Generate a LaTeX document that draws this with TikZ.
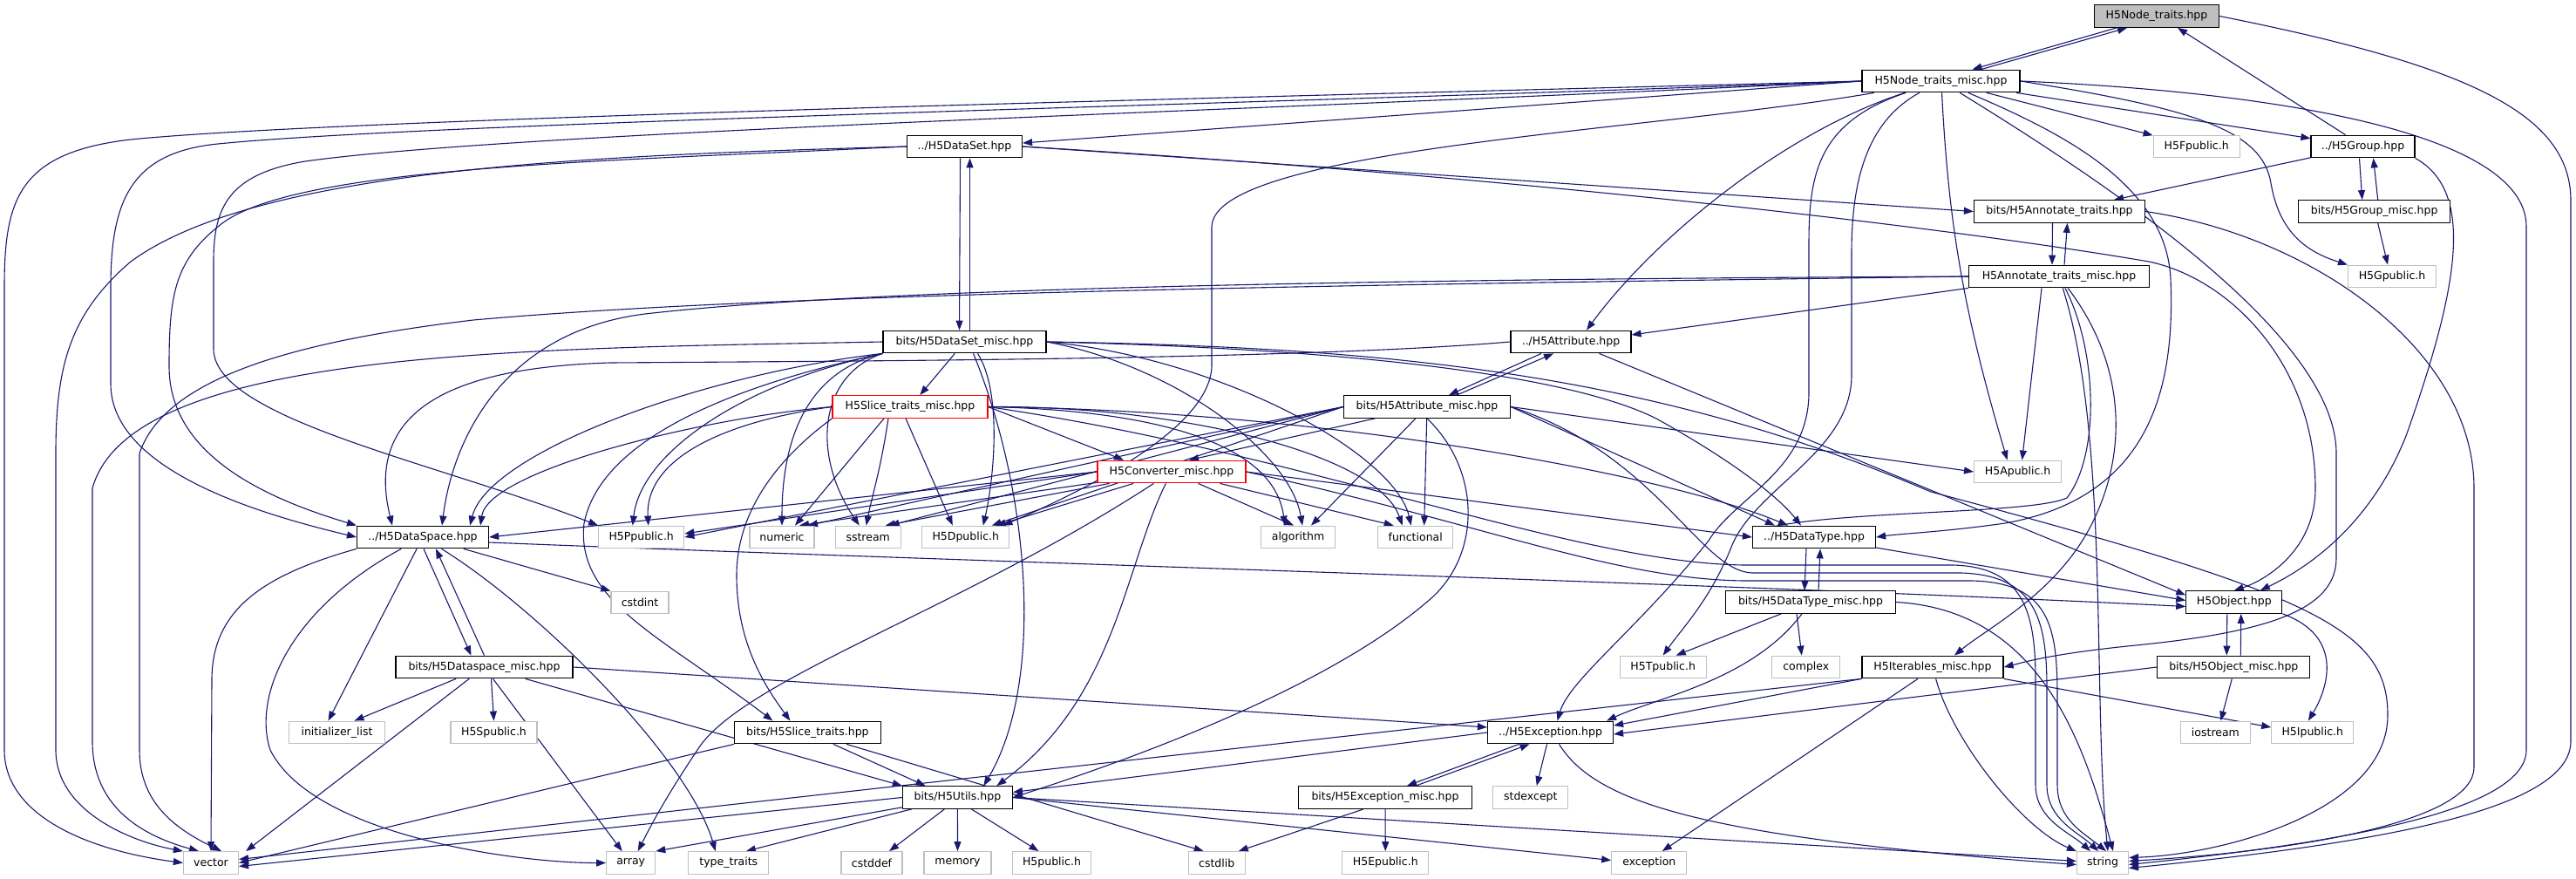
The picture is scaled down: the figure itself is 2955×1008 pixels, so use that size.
\documentclass[tikz,border=0pt]{standalone}
\usepackage{fontspec}
\setmainfont{DejaVu Sans}
\usetikzlibrary{arrows.meta}
\definecolor{edgec}{HTML}{191970}
\definecolor{lgray}{HTML}{BFBFBF}
\pgfdeclarelayer{bg}
\pgfsetlayers{bg,main}
\begin{document}
\begin{tikzpicture}[x=1pt,y=-1pt,
  every node/.style={font=\fontsize{12.5pt}{15pt}\selectfont, inner sep=0pt, minimum height=25.6pt},
  hdr/.style={draw=black, line width=1.2pt, fill=white},
  sys/.style={draw=lgray, line width=1.2pt, fill=white},
  redb/.style={draw=red, line width=1.2pt, fill=white},
  e/.style={draw=edgec, line width=1.1pt, -{Triangle[length=11pt,width=8pt]}},
]
\useasboundingbox (0,0) rectangle (2955,1008);
% nodes
\node[hdr,fill=lgray,minimum width=143pt] (T) at (2474,18.5) {H5Node\_traits.hpp};
\node[hdr,minimum width=181pt] (NTM) at (2226.5,93) {H5Node\_traits\_misc.hpp};
\node[hdr,minimum width=132pt] (DS) at (1106.5,168) {../H5DataSet.hpp};
\node[sys,minimum width=99pt] (Fp) at (2519.7,168) {H5Fpublic.h};
\node[hdr,minimum width=119pt] (Grp) at (2710.5,168) {../H5Group.hpp};
\node[hdr,minimum width=196pt] (AT) at (2362.5,242.5) {bits/H5Annotate\_traits.hpp};
\node[hdr,minimum width=174pt] (GM) at (2723.7,242.5) {bits/H5Group\_misc.hpp};
\node[hdr,minimum width=207pt] (ATM) at (2362,317) {H5Annotate\_traits\_misc.hpp};
\node[sys,minimum width=101pt] (Gp) at (2744,317) {H5Gpublic.h};
\node[hdr,minimum width=187pt] (DSM) at (1106.5,392) {bits/H5DataSet\_misc.hpp};
\node[hdr,minimum width=138pt] (Att) at (1802,392) {../H5Attribute.hpp};
\node[redb,minimum width=178pt] (STM) at (1044,466.5) {H5Slice\_traits\_misc.hpp};
\node[hdr,minimum width=191pt] (AttM) at (1637,466.5) {bits/H5Attribute\_misc.hpp};
\node[redb,minimum width=170pt] (Cv) at (1344,541) {H5Converter\_misc.hpp};
\node[sys,minimum width=100pt] (Ap) at (2314.6,541) {H5Apublic.h};
\node[hdr,minimum width=151pt] (DSp) at (485,616) {../H5DataSpace.hpp};
\node[sys,minimum width=98pt] (Pp) at (735.7,616) {H5Ppublic.h};
\node[sys,minimum width=74pt] (num) at (897,616) {numeric};
\node[sys,minimum width=75pt] (ss) at (995.7,616) {sstream};
\node[sys,minimum width=100pt] (Dp) at (1107.8,616) {H5Dpublic.h};
\node[sys,minimum width=85pt] (alg) at (1489,616) {algorithm};
\node[sys,minimum width=86pt] (fun) at (1623.7,616) {functional};
\node[hdr,minimum width=141pt] (DT) at (2081,616) {../H5DataType.hpp};
\node[sys,minimum width=66pt] (cint) at (734,691) {cstdint};
\node[hdr,minimum width=195pt] (DTM) at (2077,690.5) {bits/H5DataType\_misc.hpp};
\node[hdr,minimum width=110pt] (Obj) at (2562.8,690.5) {H5Object.hpp};
\node[hdr,minimum width=203pt] (DSpM) at (555.5,765) {bits/H5Dataspace\_misc.hpp};
\node[sys,minimum width=99pt] (Tp) at (1907.7,765) {H5Tpublic.h};
\node[sys,minimum width=78pt] (cx) at (2071.8,765) {complex};
\node[hdr,minimum width=162pt] (ItM) at (2217,765) {H5Iterables\_misc.hpp};
\node[hdr,minimum width=175pt] (OM) at (2562.3,765) {bits/H5Object\_misc.hpp};
\node[sys,minimum width=110pt] (il) at (386.5,840) {initializer\_list};
\node[sys,minimum width=99pt] (Sp) at (566.5,840) {H5Spublic.h};
\node[hdr,minimum width=168pt] (ST) at (926.4,840) {bits/H5Slice\_traits.hpp};
\node[hdr,minimum width=144pt] (Ex) at (1778.5,840) {../H5Exception.hpp};
\node[sys,minimum width=80pt] (io) at (2541.4,840) {iostream};
\node[sys,minimum width=94pt] (Ip) at (2652.8,840) {H5Ipublic.h};
\node[hdr,minimum width=126pt] (Ut) at (1098.4,914.5) {bits/H5Utils.hpp};
\node[hdr,minimum width=199pt] (EM) at (1589,914.5) {bits/H5Exception\_misc.hpp};
\node[sys,minimum width=86pt] (se) at (1755.8,914.5) {stdexcept};
\node[sys,minimum width=63pt] (vec) at (242,989.5) {vector};
\node[sys,minimum width=56pt] (arr) at (723.7,989.5) {array};
\node[sys,minimum width=92pt] (tt) at (835.8,989.5) {type\_traits};
\node[sys,minimum width=70pt] (cdf) at (1000,989.5) {cstddef};
\node[sys,minimum width=77pt] (mem) at (1098.5,989.5) {memory};
\node[sys,minimum width=90pt] (Hp) at (1206.5,989.5) {H5public.h};
\node[sys,minimum width=65pt] (csl) at (1395.7,989.5) {cstdlib};
\node[sys,minimum width=99pt] (Ep) at (1589.3,989.5) {H5Epublic.h};
\node[sys,minimum width=86pt] (exc) at (1891.8,989.5) {exception};
\node[sys,minimum width=59pt] (str) at (2412,989.5) {string};

\begin{pgfonlayer}{bg}
\fill[white] (0,0) rectangle (2955,1008);
% top node
\draw[e] ([xshift=-46pt]T.south) -- ([xshift=36pt]NTM.north);
\draw[e] ([xshift=46pt]NTM.north) -- ([xshift=-34pt]T.south);
\draw[e] ([xshift=-20pt]Grp.north) -- ([xshift=24pt]T.south);
\draw[e] (T.east) .. controls (2830,75) and (2949,130) .. (2949,230) -- (2949,850) .. controls (2949,925) and (2750,965) .. ([yshift=-6pt]str.east);
% NTM
\draw[e] (NTM.east) .. controls (2600,105) and (2898,150) .. (2898,260) -- (2898,860) .. controls (2898,935) and (2650,970) .. ([yshift=-2pt]str.east);
\draw[e] (NTM.east) .. controls (2520,125) and (2595,150) .. (2605,210) .. controls (2615,270) and (2650,290) .. (Gp.north west);
\draw[e] (NTM) -- (Fp);
\draw[e] (NTM) -- (Grp);
\draw[e] (NTM.west) -- ([yshift=4pt]DS.east);
\draw[e] (NTM.west) .. controls (1500,110) and (400,135) .. (150,160) .. controls (20,175) and (5,230) .. (5,330) -- (5,860) .. controls (5,935) and (100,975) .. (vec.west);
\draw[e] (NTM.west) .. controls (1500,118) and (500,140) .. (250,165) .. controls (150,175) and (127,230) .. (127,330) -- (127,440) .. controls (127,540) and (300,590) .. (DSp.west);
\draw[e] (NTM.west) .. controls (1500,125) and (600,150) .. (350,185) .. controls (260,200) and (245,240) .. (245,300) -- (245,400) .. controls (245,480) and (500,530) .. (Pp.north west);
\draw[e] (NTM) .. controls (1900,150) and (1392,170) .. (1390,260) -- (1390,420) .. controls (1388,490) and (1250,560) .. ([xshift=-8pt]Dp.north east);
\draw[e] (NTM) .. controls (2050,150) and (1900,270) .. ([xshift=18pt]Att.north);
\draw[e] ([xshift=1pt]NTM.south) .. controls (2235,250) and (2250,350) .. ([xshift=-12pt]Ap.north);
\draw[e] (NTM) .. controls (2085,140) and (2075,200) .. (2075,280) -- (2075,450) .. controls (2075,540) and (1990,570) .. (1960,620) .. controls (1880,720) and (1800,780) .. ([xshift=8pt]Ex.north);
\draw[e] (NTM) .. controls (2140,140) and (2124,210) .. (2124,290) -- (2124,430) .. controls (2124,520) and (2010,560) .. (1985,630) .. controls (1960,690) and (1930,720) .. (Tp.north);
\draw[e] (NTM) .. controls (2360,150) and (2485,210) .. (2490,320) .. controls (2495,440) and (2470,570) .. (2300,600) .. controls (2230,610) and (2180,612) .. (DT.east);
\draw[e] (NTM) .. controls (2400,200) and (2680,380) .. (2680,520) -- (2680,640) .. controls (2680,700) and (2600,725) .. (2450,740) .. controls (2350,750) and (2320,760) .. (ItM.east);
% Group
\draw[e] (Grp) -- (AT);
\draw[e] ([xshift=-4pt]Grp.south) -- ([xshift=-14pt]GM.north);
\draw[e] ([xshift=4pt]GM.north) -- ([xshift=12pt]Grp.south);
\draw[e] ([xshift=4pt]GM.south) -- ([xshift=-5pt]Gp.north);
\draw[e] (Grp.south east) .. controls (2840,220) and (2820,330) .. (2760,500) .. controls (2720,600) and (2650,650) .. ([xshift=30pt]Obj.north);
% Annotate
\draw[e] ([xshift=-8pt]AT.south) -- ([xshift=-8pt]ATM.north);
\draw[e] ([xshift=6pt]ATM.north) -- ([xshift=9pt]AT.south);
\draw[e] (AT.east) .. controls (2650,270) and (2838,400) .. (2838,560) -- (2838,880) .. controls (2838,940) and (2650,975) .. ([yshift=2pt]str.east);
\draw[e] (ATM.south west) -- ([yshift=8pt]Att.east);
\draw[e] ([xshift=-20pt]ATM.south) -- ([xshift=5pt]Ap.north);
\draw[e] (ATM.west) .. controls (1600,320) and (1000,330) .. (740,360) .. controls (580,380) and (520,500) .. ([xshift=22pt]DSp.north);
\draw[e] (ATM.west) .. controls (1600,326) and (900,335) .. (543,367) .. controls (350,390) and (190,430) .. (160,520) -- (160,860) .. controls (160,920) and (200,950) .. ([xshift=-20pt]vec.north east);
\draw[e] (ATM) .. controls (2420,500) and (2400,800) .. ([xshift=6pt]str.north);
\draw[e] (ATM) .. controls (2405,400) and (2410,520) .. (2371,571) .. controls (2330,590) and (2100,585) .. ([yshift=6pt]DT.west);
\draw[e] (ATM) .. controls (2440,420) and (2440,520) .. (2400,600) .. controls (2360,680) and (2280,720) .. ([xshift=25pt]ItM.north);
% DataSet
\draw[e] ([xshift=-5pt]DS.south) -- ([xshift=-6pt]DSM.north);
\draw[e] ([xshift=6pt]DSM.north) -- ([xshift=6pt]DS.south);
\draw[e] (DS.east) -- (AT.west);
\draw[e] (DS.east) .. controls (1700,200) and (2200,255) .. (2465,300) .. controls (2560,320) and (2656,420) .. (2656,560) .. controls (2656,630) and (2600,665) .. (Obj.north);
\draw[e] (DS.west) .. controls (700,178) and (300,190) .. (150,300) .. controls (80,360) and (64,420) .. (64,520) -- (64,860) .. controls (64,930) and (150,965) .. (vec.north west);
\draw[e] (DS.west) .. controls (700,185) and (330,190) .. (250,260) .. controls (200,300) and (194,340) .. (194,420) .. controls (194,520) and (300,570) .. (DSp.north west);
% DataSet_misc
\draw[e] (DSM) -- (STM);
\draw[e] (DSM.west) .. controls (600,400) and (150,400) .. (106,560) -- (106,850) .. controls (106,930) and (170,960) .. ([xshift=-14pt]vec.north);
\draw[e] (DSM.south west) .. controls (800,430) and (560,520) .. ([xshift=-22pt]DSp.north east);
\draw[e] (DSM.south west) .. controls (850,440) and (735,520) .. ([xshift=-10pt]Pp.north);
\draw[e] (DSM.south west) .. controls (950,420) and (897,470) .. (num.north);
\draw[e] (DSM.south west) .. controls (940,430) and (930,520) .. ([xshift=-10pt]ss.north);
\draw[e] ([xshift=15pt]DSM.south) .. controls (1150,450) and (1140,550) .. ([xshift=20pt]Dp.north);
\draw[e] (DSM.east) .. controls (1350,420) and (1480,520) .. ([xshift=5pt]alg.north);
\draw[e] (DSM.east) .. controls (1400,410) and (1600,520) .. ([xshift=-5pt]fun.north);
\draw[e] (DSM.east) .. controls (1550,400) and (1800,430) .. (1900,480) .. controls (1990,530) and (2040,570) .. ([xshift=-15pt]DT.north);
\draw[e] (DSM.east) .. controls (1600,398) and (1900,430) .. (2215,564) .. controls (2650,680) and (2739,720) .. (2739,820) .. controls (2739,930) and (2550,980) .. ([yshift=6pt]str.east);
\draw[e] ([xshift=10pt]DSM.south) .. controls (1180,560) and (1200,780) .. ([xshift=30pt]Ut.north);
\draw[e] (DSM.south west) .. controls (850,440) and (690,500) .. (670,600) .. controls (660,690) and (760,730) .. ([xshift=-40pt]ST.north);
% Slice_traits_misc
\draw[e] (STM.west) .. controls (800,480) and (560,540) .. ([xshift=-10pt]DSp.north east);
\draw[e] (STM.west) .. controls (820,485) and (740,530) .. ([xshift=8pt]Pp.north);
\draw[e] ([xshift=-30pt]STM.south) -- ([xshift=15pt]num.north);
\draw[e] ([xshift=-25pt]STM.south) .. controls (1010,540) and (1000,570) .. ([xshift=-2pt]ss.north);
\draw[e] ([xshift=-5pt]STM.south) -- ([xshift=-15pt]Dp.north);
\draw[e] (STM.east) -- ([xshift=-55pt]Cv.north);
\draw[e] (STM.east) .. controls (1300,470) and (1460,500) .. ([xshift=-15pt]alg.north);
\draw[e] (STM.east) .. controls (1350,465) and (1580,520) .. ([xshift=-15pt]fun.north);
\draw[e] (STM.east) .. controls (1500,470) and (1900,540) .. ([xshift=-30pt]DT.north);
\draw[e] (STM.east) .. controls (1500,520) and (1800,645) .. (2000,648) -- (2240,648) .. controls (2320,650) and (2335,700) .. (2335,780) -- (2335,900) .. controls (2335,940) and (2375,955) .. ([xshift=-14pt]str.north);
\draw[e] (STM.south west) .. controls (900,520) and (845,580) .. (845,660) .. controls (845,740) and (880,790) .. ([xshift=-20pt]ST.north);
% Attribute
\draw[e] ([xshift=-34pt]Att.south) -- ([xshift=25pt]AttM.north);
\draw[e] ([xshift=34pt]AttM.north) -- ([xshift=-20pt]Att.south);
\draw[e] (Att) -- ([yshift=8pt]Obj.west);
\draw[e] (Att.west) .. controls (1500,412) and (1000,414) .. (700,416) .. controls (500,422) and (420,480) .. ([xshift=-35pt]DSp.north);
% Attribute_misc
\draw[e] (AttM) -- ([xshift=20pt]Cv.north);
\draw[e] (AttM) -- ([xshift=15pt]alg.north);
\draw[e] (AttM) -- ([xshift=10pt]fun.north);
\draw[e] (AttM.west) -- ([xshift=30pt]num.north);
\draw[e] (AttM.west) -- ([xshift=25pt]ss.north);
\draw[e] (AttM.west) -- ([xshift=30pt]Dp.north);
\draw[e] (AttM.west) -- (Pp.east);
\draw[e] (AttM.east) -- ([xshift=-45pt]DT.north);
\draw[e] (AttM.east) -- (Ap.west);
\draw[e] (AttM.east) .. controls (1900,520) and (1950,655) .. (2010,657) -- (2250,657) .. controls (2335,660) and (2348,710) .. (2348,790) -- (2348,900) .. controls (2348,940) and (2385,955) .. ([xshift=-5pt]str.north);
\draw[e] (AttM.south) .. controls (1700,540) and (1700,640) .. (1636,691) .. controls (1520,790) and (1300,870) .. (Ut.east);
% Converter
\draw[e] (Cv.west) -- (DSp.east);
\draw[e] (Cv.west) -- ([yshift=4pt]Pp.east);
\draw[e] (Cv) -- ([xshift=20pt]num.north);
\draw[e] (Cv) -- ([xshift=20pt]ss.north);
\draw[e] (Cv) -- ([xshift=35pt]Dp.north);
\draw[e] (Cv) -- ([xshift=-5pt]alg.north);
\draw[e] (Cv) -- ([xshift=-25pt]fun.north);
\draw[e] (Cv.east) -- (DT.west);
\draw[e] (Cv.east) .. controls (1700,600) and (1850,664) .. (2000,666) -- (2262,666) .. controls (2352,668) and (2360,720) .. (2360,800) -- (2360,900) .. controls (2360,940) and (2390,955) .. ([xshift=4pt]str.north);
\draw[e] (Cv) .. controls (1100,700) and (850,780) .. (800,860) .. controls (760,920) and (745,950) .. ([xshift=8pt]arr.north);
\draw[e] (Cv) .. controls (1290,650) and (1280,800) .. ([xshift=45pt]Ut.north);
% DataSpace
\draw[e] ([xshift=1pt]DSp.south) -- ([xshift=-15pt]DSpM.north);
\draw[e] (DSpM.north) -- ([xshift=15pt]DSp.south);
\draw[e] ([yshift=-6pt]DSp.east) .. controls (1000,640) and (2000,670) .. ([yshift=-5pt]Obj.west);
\draw[e] (DSp) -- (cint.north west);
\draw[e] (DSp.south west) .. controls (300,660) and (243,700) .. (243,780) -- (vec.north);
\draw[e] (DSp) -- ([xshift=-10pt]il.north);
\draw[e] (DSp) .. controls (330,700) and (290,800) .. (310,860) .. controls (360,960) and (600,990) .. (arr.west);
\draw[e] (DSp) .. controls (620,700) and (790,870) .. ([xshift=-15pt]tt.north);
% Dataspace_misc
\draw[e] (DSpM) -- ([xshift=20pt]il.north);
\draw[e] ([xshift=8pt]DSpM.south) -- (Sp.north);
\draw[e] (DSpM) -- ([xshift=8pt]vec.north east);
\draw[e] (DSpM) -- ([xshift=-10pt]arr.north);
\draw[e] (DSpM.east) -- ([yshift=6pt]Ex.west);
\draw[e] (DSpM) -- (Ut.north west);
% DataType
\draw[e] ([xshift=-9pt]DT.south) -- ([xshift=-7pt]DTM.north);
\draw[e] ([xshift=9pt]DTM.north) -- ([xshift=7pt]DT.south);
\draw[e] (DT) -- ([yshift=2pt]Obj.west);
\draw[e] (DTM) -- ([xshift=15pt]Tp.north);
\draw[e] ([xshift=-16pt]DTM.south) -- ([xshift=-5pt]cx.north);
\draw[e] (DTM) .. controls (2010,780) and (1900,800) .. ([xshift=-8pt]Ex.north east);
\draw[e] (DTM.east) .. controls (2340,700) and (2390,850) .. ([xshift=12pt]str.north);
% Object
\draw[e] ([xshift=-8pt]Obj.south) -- ([xshift=-8pt]OM.north);
\draw[e] ([xshift=8pt]OM.north) -- ([xshift=8pt]Obj.south);
\draw[e] (Obj.south east) .. controls (2690,730) and (2670,790) .. ([xshift=-5pt]Ip.north);
\draw[e] ([xshift=-2pt]OM.south) -- ([xshift=6pt]io.north);
\draw[e] (OM.west) -- ([yshift=-2pt]Ex.east);
% Iterables
\draw[e] (ItM.south west) -- ([yshift=8pt]Ex.east);
\draw[e] (ItM.south west) -- ([yshift=4pt]vec.east);
\draw[e] ([xshift=-17pt]ItM.south) -- ([xshift=15pt]exc.north);
\draw[e] (ItM) .. controls (2240,850) and (2320,950) .. (str.north west);
\draw[e] (ItM.south east) -- ([yshift=6pt]Ip.west);
% Slice_traits
\draw[e] (ST) -- ([xshift=-37pt]Ut.north);
\draw[e] (ST.south west) -- (vec.east);
\draw[e] (ST) -- ([xshift=-15pt]csl.north);
% Utils
\draw[e] (Ut.west) -- ([yshift=-4pt]vec.east);
\draw[e] (Ut) -- (arr.north east);
\draw[e] (Ut) -- ([xshift=20pt]tt.north);
\draw[e] ([xshift=-15pt]Ut.south) -- ([xshift=20pt]cdf.north);
\draw[e] (Ut) -- (mem);
\draw[e] ([xshift=16pt]Ut.south) -- ([xshift=-15pt]Hp.north);
\draw[e] (Ut.east) -- ([yshift=3pt]exc.west);
\draw[e] (Ut.east) -- ([yshift=2pt]str.west);
% Exception
\draw[e] ([xshift=-36pt]Ex.south) -- ([xshift=25pt]EM.north);
\draw[e] ([xshift=35pt]EM.north) -- ([xshift=-24pt]Ex.south);
\draw[e] ([xshift=-4pt]Ex.south) -- ([xshift=7pt]se.north);
\draw[e] (Ex.west) -- ([yshift=6pt]Ut.east);
\draw[e] ([xshift=10pt]Ex.south) .. controls (1830,920) and (1950,960) .. ([yshift=-2pt]str.west);
\draw[e] (EM) -- (Ep);
\draw[e] ([xshift=-25pt]EM.south) -- ([xshift=25pt]csl.north);
\end{pgfonlayer}
\end{tikzpicture}
\end{document}
